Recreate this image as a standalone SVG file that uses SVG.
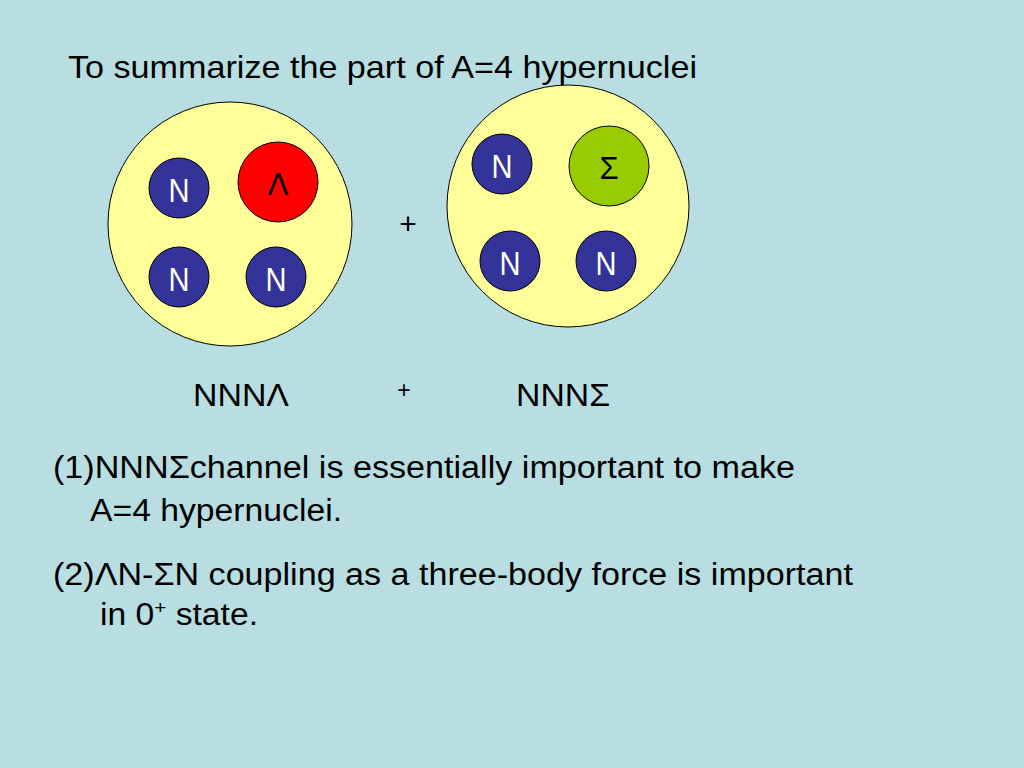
<svg xmlns="http://www.w3.org/2000/svg" width="1024" height="768" viewBox="0 0 1024 768">
<style>
text{font-family:"Liberation Sans",Arial,sans-serif;fill:#000}
.big{fill:#FFFF99;stroke:#000;stroke-width:1}
.n{fill:#333399;stroke:#000;stroke-width:1}
.nl{fill:#fff;font-size:34px;text-anchor:middle}
.hl{font-size:31px;text-anchor:middle}
.t{font-size:31px}
</style>
<rect width="1024" height="768" fill="#B8DEE2"/>
<text x="68" y="78" style="font-size:32px" textLength="629" lengthAdjust="spacingAndGlyphs">To summarize the part of A=4 hypernuclei</text>
<g id="nucleusL">
<ellipse class="big" cx="230" cy="224" rx="122" ry="122"/>
</g>
<g id="N1">
<circle class="n" cx="179" cy="188" r="30"/><text class="nl" x="179" y="202" textLength="21" lengthAdjust="spacingAndGlyphs">N</text>
</g>
<g id="Lambda">
<circle cx="278" cy="182" r="40" fill="#FF0000" stroke="#000"/><text class="hl" x="278" y="195">Λ</text>
</g>
<g id="N2">
<circle class="n" cx="179" cy="277" r="30"/><text class="nl" x="179" y="291" textLength="21" lengthAdjust="spacingAndGlyphs">N</text>
</g>
<g id="N3">
<circle class="n" cx="276" cy="277" r="30"/><text class="nl" x="276" y="291" textLength="21" lengthAdjust="spacingAndGlyphs">N</text>
</g>
<g id="nucleusR">
<ellipse class="big" cx="568" cy="206" rx="121" ry="121"/>
</g>
<g id="N4">
<circle class="n" cx="502" cy="164" r="30"/><text class="nl" x="502" y="178" textLength="21" lengthAdjust="spacingAndGlyphs">N</text>
</g>
<g id="Sigma">
<circle cx="609" cy="166" r="40" fill="#99CC00" stroke="#000"/><text class="hl" x="609" y="179">Σ</text>
</g>
<g id="N5">
<circle class="n" cx="510" cy="261" r="30"/><text class="nl" x="510" y="275" textLength="21" lengthAdjust="spacingAndGlyphs">N</text>
</g>
<g id="N6">
<circle class="n" cx="606" cy="261" r="30"/><text class="nl" x="606" y="275" textLength="21" lengthAdjust="spacingAndGlyphs">N</text>
</g>
<g id="connectors"></g>
<text x="408" y="234" style="font-size:30px" text-anchor="middle">+</text>
<text x="193" y="406" class="t" textLength="96" lengthAdjust="spacingAndGlyphs">NNNΛ</text>
<text x="404" y="398" style="font-size:23px" text-anchor="middle">+</text>
<text x="516" y="406" class="t" textLength="94" lengthAdjust="spacingAndGlyphs">NNNΣ</text>
<text x="53" y="478" class="t" textLength="742" lengthAdjust="spacingAndGlyphs">(1)NNNΣchannel is essentially important to make</text>
<text x="90" y="521" class="t" textLength="252" lengthAdjust="spacingAndGlyphs">A=4 hypernuclei.</text>
<text x="53" y="585" class="t" textLength="800" lengthAdjust="spacingAndGlyphs">(2)ΛN-ΣN coupling as a three-body force is important</text>
<text x="100" y="625" class="t" textLength="158" lengthAdjust="spacingAndGlyphs">in 0<tspan dy="-11" style="font-size:19px">+</tspan><tspan dy="11"> state.</tspan></text>
</svg>
